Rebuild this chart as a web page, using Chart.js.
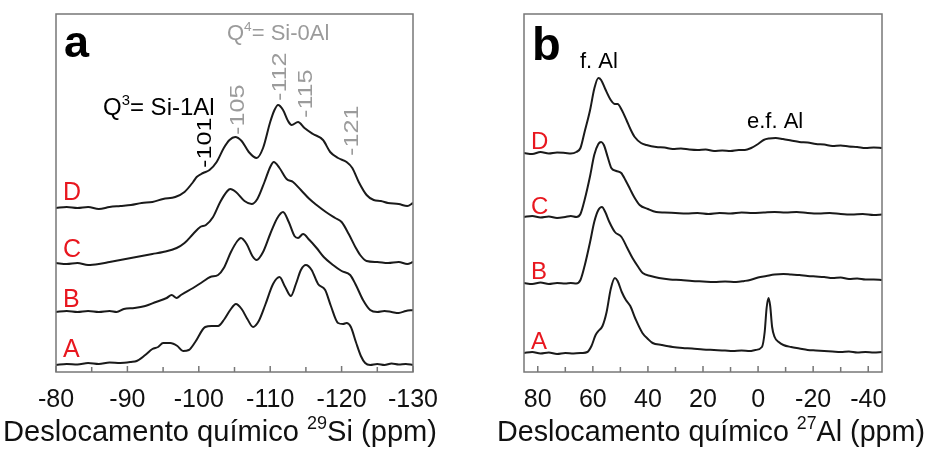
<!DOCTYPE html>
<html>
<head>
<meta charset="utf-8">
<script src="https://cdn.jsdelivr.net/npm/chart.js@4"></script>
<style>
  html, body { margin: 0; padding: 0; background: #fff; }
  #wrap { position: relative; width: 929px; height: 453px; overflow: hidden; }
  canvas { position: absolute; top: 0; }
</style>
</head>
<body>
<div id="wrap">
  <canvas id="siChart" width="465" height="453" style="left:0"></canvas>
  <canvas id="alChart" width="464" height="453" style="left:465px"></canvas>
</div>
<script>
// ---- 29Si spectra (ppm, stacked intensity) ----
const siTicks = [-80, -90, -100, -110, -120, -130];
const siMinor = [-85, -95, -105, -115, -125];

const siA_x = [-80,-81.5,-83,-84.5,-86,-87.5,-89,-90.5,-91.3,-92.5,-93.5,-94.3,-95,-96,-97,-97.8,-98.6,-99.5,-100.9,-101.8,-102.7,-103.6,-104.4,-105.2,-106,-106.8,-107.6,-108.4,-109.3,-110.4,-111.3,-112.1,-112.9,-113.6,-114.3,-115,-115.8,-116.7,-117.7,-118.5,-119.5,-120.2,-120.7,-121.3,-122,-122.7,-123.3,-124,-125,-126,-127,-128,-129,-130];
const siA_y = [7,8,7.5,9,8,9.5,9,10,11,17,23,25,29,29,26,21,22,30,45,46,46,53,62,68,63,53,45,51,67,88,95,85,76,88,102,107,102,88,82,66,49,48,49,45,30,16,9,7,8,7,8.5,7.5,8,7];

const siB_x = [-80,-81.5,-83,-84.5,-86,-87.5,-88.5,-89.5,-91,-92.5,-94,-95.5,-96.2,-96.9,-97.5,-99.2,-100.5,-101.6,-102.7,-103.5,-104.5,-105.4,-105.9,-106.7,-107.5,-108.1,-109,-110,-111,-111.8,-112.6,-113.4,-113.9,-114.6,-115.5,-116.5,-117.5,-118.8,-120,-121.2,-122,-123,-124,-125,-126,-127,-128,-129,-130];
const siB_y = [60,61,60,61,60,61,60,63,64,66,70,74,77,74,77,84,90,95,97,104,120,131,134,128,116,112,120,138,154,160,150,136,134,138,132,124,115,107,101,97,87,72,62,60,61,60,59,61,62];

const siC_x = [-80,-81.5,-83,-84.5,-86,-87.5,-89,-90.5,-92,-93.5,-95,-96.9,-98,-99.2,-100.2,-101,-102,-103,-104,-104.4,-105.2,-106.4,-107.4,-108.2,-109.2,-110,-110.5,-111.3,-112.3,-113.2,-114.3,-115.5,-116.5,-117.8,-119.1,-120,-121,-122,-122.6,-123.5,-125,-126.5,-128,-129.2,-130];
const siC_y = [109,108,109,107,108,110,112,114,116,118,120,124,129,138,145,147,155,170,181,183,180,171,168,173,190,205,210,204,193,190,182,173,167,160,154,150,138,124,117,111,110,109,110,108,110];

const siD_x = [-80,-81.5,-83,-84.5,-86,-87.5,-89,-90.5,-92,-93.5,-95,-96.7,-98,-99.2,-99.7,-100.6,-101.5,-102.5,-103.5,-104.3,-105.1,-106,-107,-108.1,-109,-110,-110.6,-111.1,-111.8,-112.5,-113,-113.9,-114.8,-116,-117.4,-118.4,-119.5,-120.7,-121.5,-122.4,-123.5,-124.5,-125.5,-126.5,-128,-129.2,-130];
const siD_y = [164,165,164,165,163,165,166,167,169,170,173,175,180,190,195,199,202,210,224,232,235,231,220,214,224,250,262,267,262,251,247,250,244,238,232,220,214,210,204,190,177,172,171,169,168,166,169];

const siPeakLabels = ['-101', '-105', '-112', '-115', '-121'];

// ---- 27Al spectra ----
const alTicks = [80, 60, 40, 20, 0, -20, -40];
const alMinor = [70, 50, 30, 10, -10, -30];

const alA_x = [85,82,79,76,73,70,67,64,62,60.5,59,58,56.5,55,53.5,52,51,49.5,48,46.4,44.5,42,40,38.3,35,31,27.4,24,20,16,12,9.2,6,3,1,-1.4,-2.4,-3.1,-3.8,-4.4,-5.1,-6,-7.5,-9.2,-12,-15,-18,-21,-24,-27,-30,-33,-36,-39,-42,-45];
const alA_y = [19,20,18.5,19.5,18,19,18.5,19,20,26,37,41,46,60,83,94,91,80,72,66,53,39,33,29,27,25,24,23.5,22.5,22,21.5,21,21.5,21,22,25,40,64,74,66,45,35,30,27,25,23.5,22,21.5,21,20.5,20,20.5,19.5,20,19.5,20];

const alB_x = [85,82,79,76,73,70,68,66,64.5,63,61,59.5,58,56.7,55.5,54,52,49.6,47.5,45.6,43.5,41.9,39,36,32,28,24,20,16,12,8,5,2.9,0,-3,-6,-9.2,-12,-15,-18,-21,-24,-27,-30,-33,-36,-39,-42,-45];
const alB_y = [89,88,89.5,88,89,88.5,89,88.5,92,106,130,150,162,165,160,150,140,135,124,114,105,99,96,94,92.5,92,91,90.5,90,90.5,90,91,92,94.5,96,97.5,98,97.5,97,96,95.5,95,94,94.5,93,93.5,92.5,92.5,92];

const alC_x = [85,82,79,76,73,70,68,66,64.5,63,61,59.5,58,57,56,54.5,53.3,51.5,49.7,48,46.5,45,43,40,37,34,30,26,22,18,14,10,6,2,-2,-6,-10,-14,-18,-22,-26,-30,-34,-38,-42,-45];
const alC_y = [155,156,154.5,155.5,154,155,156,155,158,172,196,217,228,230,227,214,204,201,199,191,183,175,167,163,160,159.5,159,158.5,159,158,159,158.5,159.5,159,159.5,160,159.5,160,159,158.5,159,158,157.5,158,157,157.5];

const alD_x = [85,82,79,76,73,70,68,66,64.5,63,61,59.5,58,57,55.5,53.5,52,51,49.5,47.8,46.2,44.8,42.5,40.5,37,34,31,28,25,22,19,16,13,10,7,4.8,2.5,0,-2,-4,-6.4,-9,-12,-15,-18,-21,-24,-27,-30,-33,-36,-39,-42,-45];
const alD_y = [219,218,220,218.5,219.5,219,218.5,220,224,240,262,283,294,292,283,272,268,268,262,252,242,235,229,227,225,224.5,223,223.5,222.5,222,222.5,221,221.5,221,222,222,224,228,232,233.5,234,233,231.5,230,229.5,228,227.5,226,226.5,225.5,225,224,224.5,224];

const sampleNames = ['D', 'C', 'B', 'A'];

// ---- drawing helpers ----
const FONT = '"Liberation Sans", Arial, Helvetica, sans-serif';
const LINE = '#1a1a1a', RED = '#e8171f', GREY = '#9b9b9b', AXIS = '#777';

const pts = (xs, ys) => xs.map((x, i) => ({ x, y: ys[i] }));

function runsWidth(ctx, runs, size, weight = 'normal') {
  let w = 0;
  runs.forEach(r => {
    ctx.font = `${weight} ${r.sup ? size * 0.62 : size}px ${FONT}`;
    w += ctx.measureText(r.t).width;
  });
  return w;
}

function drawRuns(ctx, x, y, runs, size, color, sx = 1, weight = 'normal') {
  ctx.save();
  ctx.translate(x, y);
  ctx.scale(sx, 1);
  ctx.fillStyle = color;
  ctx.textBaseline = 'alphabetic';
  ctx.textAlign = 'left';
  let cx = 0;
  runs.forEach(r => {
    const s = r.sup ? size * 0.62 : size;
    ctx.font = `${weight} ${s}px ${FONT}`;
    ctx.fillText(r.t, cx, r.sup ? -size * 0.42 : 0);
    cx += ctx.measureText(r.t).width;
  });
  ctx.restore();
}

function drawTitle(ctx, x, y, runs, size, width) {
  const w = runsWidth(ctx, runs, size);
  drawRuns(ctx, x, y, runs, size, '#111', width / w);
}

// vertical text, reading bottom to top, centred on cx
function drawUp(ctx, cx, yStart, text, size, color, stretch) {
  ctx.save();
  ctx.translate(cx, yStart);
  ctx.rotate(-Math.PI / 2);
  drawRuns(ctx, 0, size * 0.36, [{ t: text }], size, color, stretch);
  ctx.restore();
}

const decor = {
  id: 'decor',
  afterDatasetsDraw(chart, args, o) {
    const { ctx, chartArea: a } = chart;
    const xs = chart.scales.x;
    ctx.save();
    ctx.strokeStyle = AXIS;
    ctx.lineWidth = 1.5;
    ctx.beginPath();
    xs.ticks.forEach(t => {
      const px = xs.getPixelForValue(t.value);
      ctx.moveTo(px, a.bottom);
      ctx.lineTo(px, a.bottom - 6);
    });
    o.minor.forEach(v => {
      const px = xs.getPixelForValue(v);
      ctx.moveTo(px, a.bottom);
      ctx.lineTo(px, a.bottom - 5);
    });
    ctx.stroke();
    ctx.strokeRect(a.left, a.top, a.right - a.left, a.bottom - a.top);
    ctx.restore();
    o.draw(ctx, chart);
  }
};

function makePanel(id, xMin, xMax, ticks, minor, series, pad, draw) {
  return new Chart(document.getElementById(id), {
    type: 'line',
    data: {
      datasets: series.map(([xv, yv]) => ({
        data: pts(xv, yv),
        borderColor: LINE,
        borderWidth: 2,
        pointRadius: 0,
        cubicInterpolationMode: 'monotone',
        fill: false
      }))
    },
    options: {
      responsive: false,
      animation: false,
      devicePixelRatio: 1,
      layout: { padding: pad },
      plugins: {
        legend: { display: false },
        tooltip: { enabled: false },
        decor: { minor, draw }
      },
      scales: {
        x: {
          type: 'linear',
          reverse: true,
          min: xMin,
          max: xMax,
          afterBuildTicks: s => { s.ticks = ticks.map(v => ({ value: v })); },
          afterFit: s => { s.height = 81; },
          grid: { display: false, drawTicks: false },
          border: { display: false },
          ticks: {
            autoSkip: false,
            maxRotation: 0,
            padding: 13,
            color: '#111',
            font: { family: FONT, size: 25 },
            callback: v => String(v)
          }
        },
        y: { display: false, min: 0, max: 358 }
      }
    },
    plugins: [decor]
  });
}

// panel a
makePanel('siChart', -130, -80, siTicks, siMinor,
  [[siA_x, siA_y], [siB_x, siB_y], [siC_x, siC_y], [siD_x, siD_y]],
  { top: 14, left: 56, right: 52, bottom: 0 },
  (ctx) => {
    drawRuns(ctx, 64, 57, [{ t: 'a' }], 45, '#000', 1, 'bold');
    drawRuns(ctx, 227, 40, [{ t: 'Q' }, { t: '4', sup: true }, { t: '= Si-0Al' }], 22, GREY);
    drawRuns(ctx, 103, 115, [{ t: 'Q' }, { t: '3', sup: true }, { t: '= Si-1Al' }], 24, '#000');
    const px = [203, 236, 278, 304, 350];
    const py = [168, 135, 101, 118, 156];
    siPeakLabels.forEach((t, i) => drawUp(ctx, px[i], py[i], t, 21, i === 0 ? '#000' : GREY, 1.2));
    const ly = [200, 257, 307, 357];
    sampleNames.forEach((t, i) => drawRuns(ctx, 63, ly[i], [{ t }], 25, RED));
    drawTitle(ctx, 3, 441, [{ t: 'Deslocamento químico ' }, { t: '29', sup: true }, { t: 'Si (ppm)' }], 29, 434);
  });

// panel b
makePanel('alChart', -45, 85, alTicks, alMinor,
  [[alA_x, alA_y], [alB_x, alB_y], [alC_x, alC_y], [alD_x, alD_y]],
  { top: 14, left: 59, right: 47, bottom: 0 },
  (ctx) => {
    drawRuns(ctx, 67, 60, [{ t: 'b' }], 47, '#000', 1, 'bold');
    drawRuns(ctx, 115, 68, [{ t: 'f. Al' }], 22, '#000');
    drawRuns(ctx, 282, 128, [{ t: 'e.f. Al' }], 22, '#000');
    const ly = [149, 214, 279, 349];
    sampleNames.forEach((t, i) => drawRuns(ctx, 66, ly[i], [{ t }], 24, RED));
    drawTitle(ctx, 32, 441, [{ t: 'Deslocamento químico ' }, { t: '27', sup: true }, { t: 'Al (ppm)' }], 29, 428);
  });
</script>
</body>
</html>
